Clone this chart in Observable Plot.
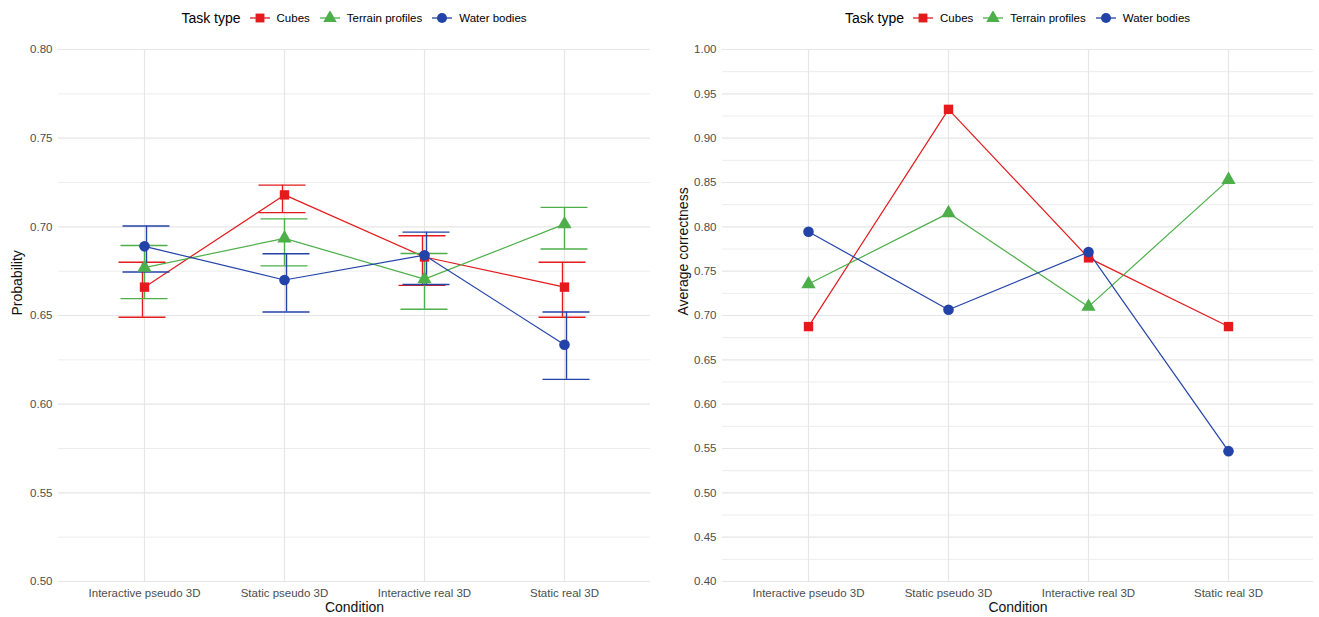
<!DOCTYPE html>
<html>
<head>
<meta charset="utf-8">
<script src="https://cdn.jsdelivr.net/npm/d3@7"></script>
<script src="https://cdn.jsdelivr.net/npm/@observablehq/plot@0.6"></script>
<style>
  html, body { margin: 0; padding: 0; background: #fff; }
  body { width: 1319px; height: 617px; overflow: hidden; font-family: "Liberation Sans", Arial, sans-serif; }
  #wrap { display: flex; }
  .panel { position: relative; }
  .legend { height: 35px; display: flex; align-items: center; justify-content: center; box-sizing: border-box; font-size: 11.5px; color: #000; }
  .legend .ttl { font-size: 14px; margin-right: 8px; }
  .legend .item { display: flex; align-items: center; margin-right: 9px; }
  .legend .item:last-child { margin-right: 0; }
  .legend svg { margin-right: 6px; }
</style>
</head>
<body>
<div id="wrap"></div>
<script>
// ---- data ----
const conditions = ["Interactive pseudo 3D", "Static pseudo 3D", "Interactive real 3D", "Static real 3D"];
const taskTypes = ["Cubes", "Terrain profiles", "Water bodies"];
const colors = ["#E41A1C", "#4DAF4A", "#2343A8"];
const symbols = ["square", "triangle", "circle"];

// Left panel: probability with confidence intervals
const probCubes   = [0.666, 0.718, 0.683, 0.666];
const probCubesLo = [0.649, 0.708, 0.667, 0.649];
const probCubesHi = [0.680, 0.7235, 0.695, 0.680];
const probTerrain   = [0.677, 0.6935, 0.6705, 0.7015];
const probTerrainLo = [0.6595, 0.678, 0.6535, 0.6875];
const probTerrainHi = [0.6895, 0.7045, 0.685, 0.711];
const probWater   = [0.689, 0.670, 0.684, 0.6335];
const probWaterLo = [0.6745, 0.652, 0.6675, 0.614];
const probWaterHi = [0.7005, 0.6848, 0.697, 0.652];

// Right panel: average correctness
const corrCubes   = [0.6875, 0.9325, 0.765, 0.6875];
const corrTerrain = [0.7355, 0.8155, 0.710, 0.853];
const corrWater   = [0.7945, 0.7065, 0.7715, 0.547];

const leftTicks = [0.50, 0.55, 0.60, 0.65, 0.70, 0.75, 0.80];
const leftMinor = [0.525, 0.575, 0.625, 0.675, 0.725, 0.775];
const rightTicks = [0.40, 0.45, 0.50, 0.55, 0.60, 0.65, 0.70, 0.75, 0.80, 0.85, 0.90, 0.95, 1.00];
const rightMinor = [0.425, 0.475, 0.525, 0.575, 0.625, 0.675, 0.725, 0.775, 0.825, 0.875, 0.925, 0.975];

// ---- build tables ----
function rows(series, lows, highs) {
  const out = [];
  series.forEach((vals, s) => vals.forEach((v, i) => out.push({
    condition: conditions[i], task: taskTypes[s], value: v,
    lo: lows ? lows[s][i] : null, hi: highs ? highs[s][i] : null
  })));
  return out;
}
const probData = rows([probCubes, probTerrain, probWater], [probCubesLo, probTerrainLo, probWaterLo], [probCubesHi, probTerrainHi, probWaterHi]);
const corrData = rows([corrCubes, corrTerrain, corrWater]);

const font = '"Liberation Sans", Arial, sans-serif';

function legend() {
  const div = document.createElement("div");
  div.className = "legend";
  const t = document.createElement("span");
  t.className = "ttl"; t.textContent = "Task type";
  div.appendChild(t);
  taskTypes.forEach((name, k) => {
    const item = document.createElement("span");
    item.className = "item";
    const svg = d3.create("svg").attr("width", 22).attr("height", 14);
    svg.append("line").attr("x1", 1).attr("x2", 21).attr("y1", 7).attr("y2", 7).attr("stroke", colors[k]).attr("stroke-width", 1.3);
    const sym = [d3.symbolSquare, d3.symbolTriangle, d3.symbolCircle][k];
    svg.append("path").attr("transform", "translate(11,7)").attr("d", d3.symbol(sym, Math.PI * 25)()).attr("fill", colors[k]);
    item.appendChild(svg.node());
    const lab = document.createElement("span");
    lab.textContent = name;
    item.appendChild(lab);
    div.appendChild(item);
  });
  return div;
}

function panel({width, marginLeft, marginRight, data, domain, ticks, minor, yLabel, labelX, errors}) {
  const div = document.createElement("div");
  div.className = "panel";
  div.style.width = width + "px";
  const lg = legend();
  lg.style.paddingLeft = marginLeft + "px";
  lg.style.paddingRight = marginRight + "px";
  div.appendChild(lg);
  const marks = [
    Plot.ruleY(minor, {stroke: "#ededed", strokeWidth: 1}),
    Plot.ruleY(ticks, {stroke: "#e6e6e6", strokeWidth: 1.2}),
    Plot.ruleX(conditions, {x: d => d, stroke: "#e6e6e6", strokeWidth: 1.2}),
    Plot.axisY({ticks, tickSize: 0, tickPadding: 6, tickFormat: d3.format(".2f"), fontSize: 11.5, color: "#4d4d4d", label: null}),
    Plot.axisX({tickSize: 0, tickPadding: 7, fontSize: 11.5, color: "#4d4d4d", label: null}),
    Plot.text([yLabel], {frameAnchor: "left", rotate: -90, dx: labelX - marginLeft, fontSize: 14, fill: "#111"}),
    Plot.text(["Condition"], {frameAnchor: "bottom", dy: 30, fontSize: 14, fill: "#111"}),
    Plot.line(data, {x: "condition", y: "value", z: "task", stroke: "task", strokeWidth: 1.2})
  ];
  if (errors) {
    taskTypes.forEach((t, k) => {
      const sub = data.filter(d => d.task === t);
      const dx = (k - 1) * 2;
      marks.push(
        Plot.ruleX(sub, {x: "condition", y1: "lo", y2: "hi", stroke: "task", strokeWidth: 1.4, dx}),
        Plot.ruleY(sub, {x1: "condition", x2: "condition", y: "lo", stroke: "task", strokeWidth: 1.4, insetLeft: -23.5, insetRight: -23.5, dx}),
        Plot.ruleY(sub, {x1: "condition", x2: "condition", y: "hi", stroke: "task", strokeWidth: 1.4, insetLeft: -23.5, insetRight: -23.5, dx})
      );
    });
  }
  marks.push(Plot.dot(data, {x: "condition", y: "value", fill: "task", symbol: "task", r: 5.3}));
  const chart = Plot.plot({
    width, height: 582,
    marginLeft, marginRight, marginTop: 14, marginBottom: 36,
    style: {fontFamily: font, background: "#fff"},
    x: {type: "point", domain: conditions, padding: 0.6, axis: null},
    y: {domain, axis: null},
    color: {domain: taskTypes, range: colors},
    symbol: {domain: taskTypes, range: symbols},
    marks
  });
  div.appendChild(chart);
  return div;
}

const wrap = document.getElementById("wrap");
wrap.appendChild(panel({width: 660, marginLeft: 58, marginRight: 10, data: probData, domain: [0.5, 0.8], ticks: leftTicks, minor: leftMinor, yLabel: "Probability", labelX: 17, errors: true}));
wrap.appendChild(panel({width: 659, marginLeft: 62, marginRight: 6, data: corrData, domain: [0.4, 1.0], ticks: rightTicks, minor: rightMinor, yLabel: "Average correctness", labelX: 23, errors: false}));
</script>
</body>
</html>
